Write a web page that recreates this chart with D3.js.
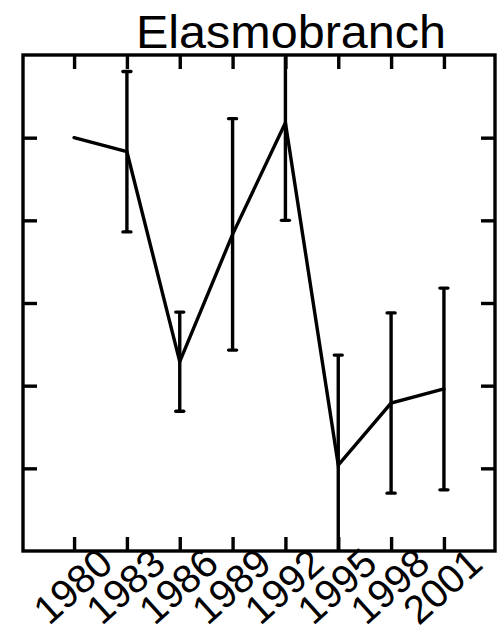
<!DOCTYPE html>
<html>
<head>
<meta charset="utf-8">
<script src="https://cdn.jsdelivr.net/npm/d3@7"></script>
<style>
  html, body { margin: 0; padding: 0; background: #fff; }
  svg { display: block; }
  text { font-family: "Liberation Sans", Arial, Helvetica, sans-serif; fill: #000; }
</style>
</head>
<body>
<svg id="chart" width="497" height="633"></svg>
<script>
// Survey years, yearly mean index and its error half-width (none for the first year)
const years = [1980, 1983, 1986, 1989, 1992, 1995, 1998, 2001];
const means = [5.00, 4.83, 2.29, 3.83, 5.18, 1.04, 1.79, 1.96];
const errors = [null, 0.97, 0.60, 1.40, 1.18, 1.33, 1.09, 1.22];
const tickLabels = ["1980", "1983", "1986", "1989", "1992", "1995", "1998", "2001"];
const yTicks = [1, 2, 3, 4, 5];
const title = "Elasmobranch";

const svg = d3.select("#chart");
const plotLeft = 23, plotRight = 495, plotTop = 55, plotBottom = 551;
const tickLen = 14;
const sw = 3.4;

const x = d3.scaleLinear().domain([1977.1, 2003.9]).range([plotLeft, plotRight]);
const y = d3.scaleLinear().domain([0, 6]).range([plotBottom, plotTop]);

svg.append("defs").append("clipPath").attr("id", "plot")
  .append("rect").attr("x", plotLeft).attr("y", plotTop)
  .attr("width", plotRight - plotLeft).attr("height", plotBottom - plotTop);

// Axes: ticks point inward on all four sides, no y labels
const bottomAxis = d3.axisBottom(x).tickValues(years)
  .tickFormat((d, i) => tickLabels[i]).tickSizeInner(-tickLen).tickSizeOuter(0);
const topAxis = d3.axisTop(x).tickValues(years).tickFormat("")
  .tickSizeInner(-tickLen).tickSizeOuter(0);
const leftAxis = d3.axisLeft(y).tickValues(yTicks).tickFormat("")
  .tickSizeInner(-tickLen).tickSizeOuter(0);
const rightAxis = d3.axisRight(y).tickValues(yTicks).tickFormat("")
  .tickSizeInner(-tickLen).tickSizeOuter(0);

function styleAxis(g) {
  g.select(".domain").remove();
  g.selectAll(".tick line").attr("stroke", "#000").attr("stroke-width", sw);
}

svg.append("g").attr("transform", `translate(0,${plotBottom})`).call(bottomAxis).call(styleAxis)
  .call(g => g.selectAll(".tick text")
    .attr("y", null).attr("dy", null)
    .attr("text-anchor", "middle")
    .attr("dominant-baseline", "central")
    .attr("transform", "translate(-2,35) rotate(-42)")
    .style("font-size", "40px")
    .style("font-family", "'Liberation Sans', Arial, sans-serif"));
svg.append("g").attr("transform", `translate(0,${plotTop})`).call(topAxis).call(styleAxis);
svg.append("g").attr("transform", `translate(${plotLeft},0)`).call(leftAxis).call(styleAxis);
svg.append("g").attr("transform", `translate(${plotRight},0)`).call(rightAxis).call(styleAxis);

// Plot frame
svg.append("rect")
  .attr("x", plotLeft).attr("y", plotTop)
  .attr("width", plotRight - plotLeft).attr("height", plotBottom - plotTop)
  .attr("fill", "none").attr("stroke", "#000").attr("stroke-width", sw);

const plot = svg.append("g").attr("clip-path", "url(#plot)");

// Error bars with short caps
const rows = years.map((yr, i) => ({ yr, m: means[i], e: errors[i] })).filter(d => d.e != null);
const capHalf = 4;
plot.selectAll("line.err").data(rows).join("line").attr("class", "err")
  .attr("x1", d => x(d.yr)).attr("x2", d => x(d.yr))
  .attr("y1", d => y(d.m - d.e)).attr("y2", d => y(d.m + d.e))
  .attr("stroke", "#000").attr("stroke-width", sw);
["hi", "lo"].forEach(k => {
  plot.selectAll("line.cap-" + k).data(rows).join("line").attr("class", "cap-" + k)
    .attr("x1", d => x(d.yr) - capHalf).attr("x2", d => x(d.yr) + capHalf)
    .attr("y1", d => y(k === "hi" ? d.m + d.e : d.m - d.e))
    .attr("y2", d => y(k === "hi" ? d.m + d.e : d.m - d.e))
    .attr("stroke", "#000").attr("stroke-width", sw).attr("stroke-linecap", "round");
});

// Mean line
const line = d3.line().x((d, i) => x(years[i])).y(d => y(d));
plot.append("path").datum(means)
  .attr("d", line)
  .attr("fill", "none").attr("stroke", "#000").attr("stroke-width", sw)
  .attr("stroke-linecap", "round").attr("stroke-linejoin", "miter");

// Title
svg.append("text")
  .attr("x", 291).attr("y", 48)
  .attr("text-anchor", "middle")
  .attr("textLength", 310).attr("lengthAdjust", "spacingAndGlyphs")
  .style("font-size", "47px")
  .text(title);
</script>
</body>
</html>
